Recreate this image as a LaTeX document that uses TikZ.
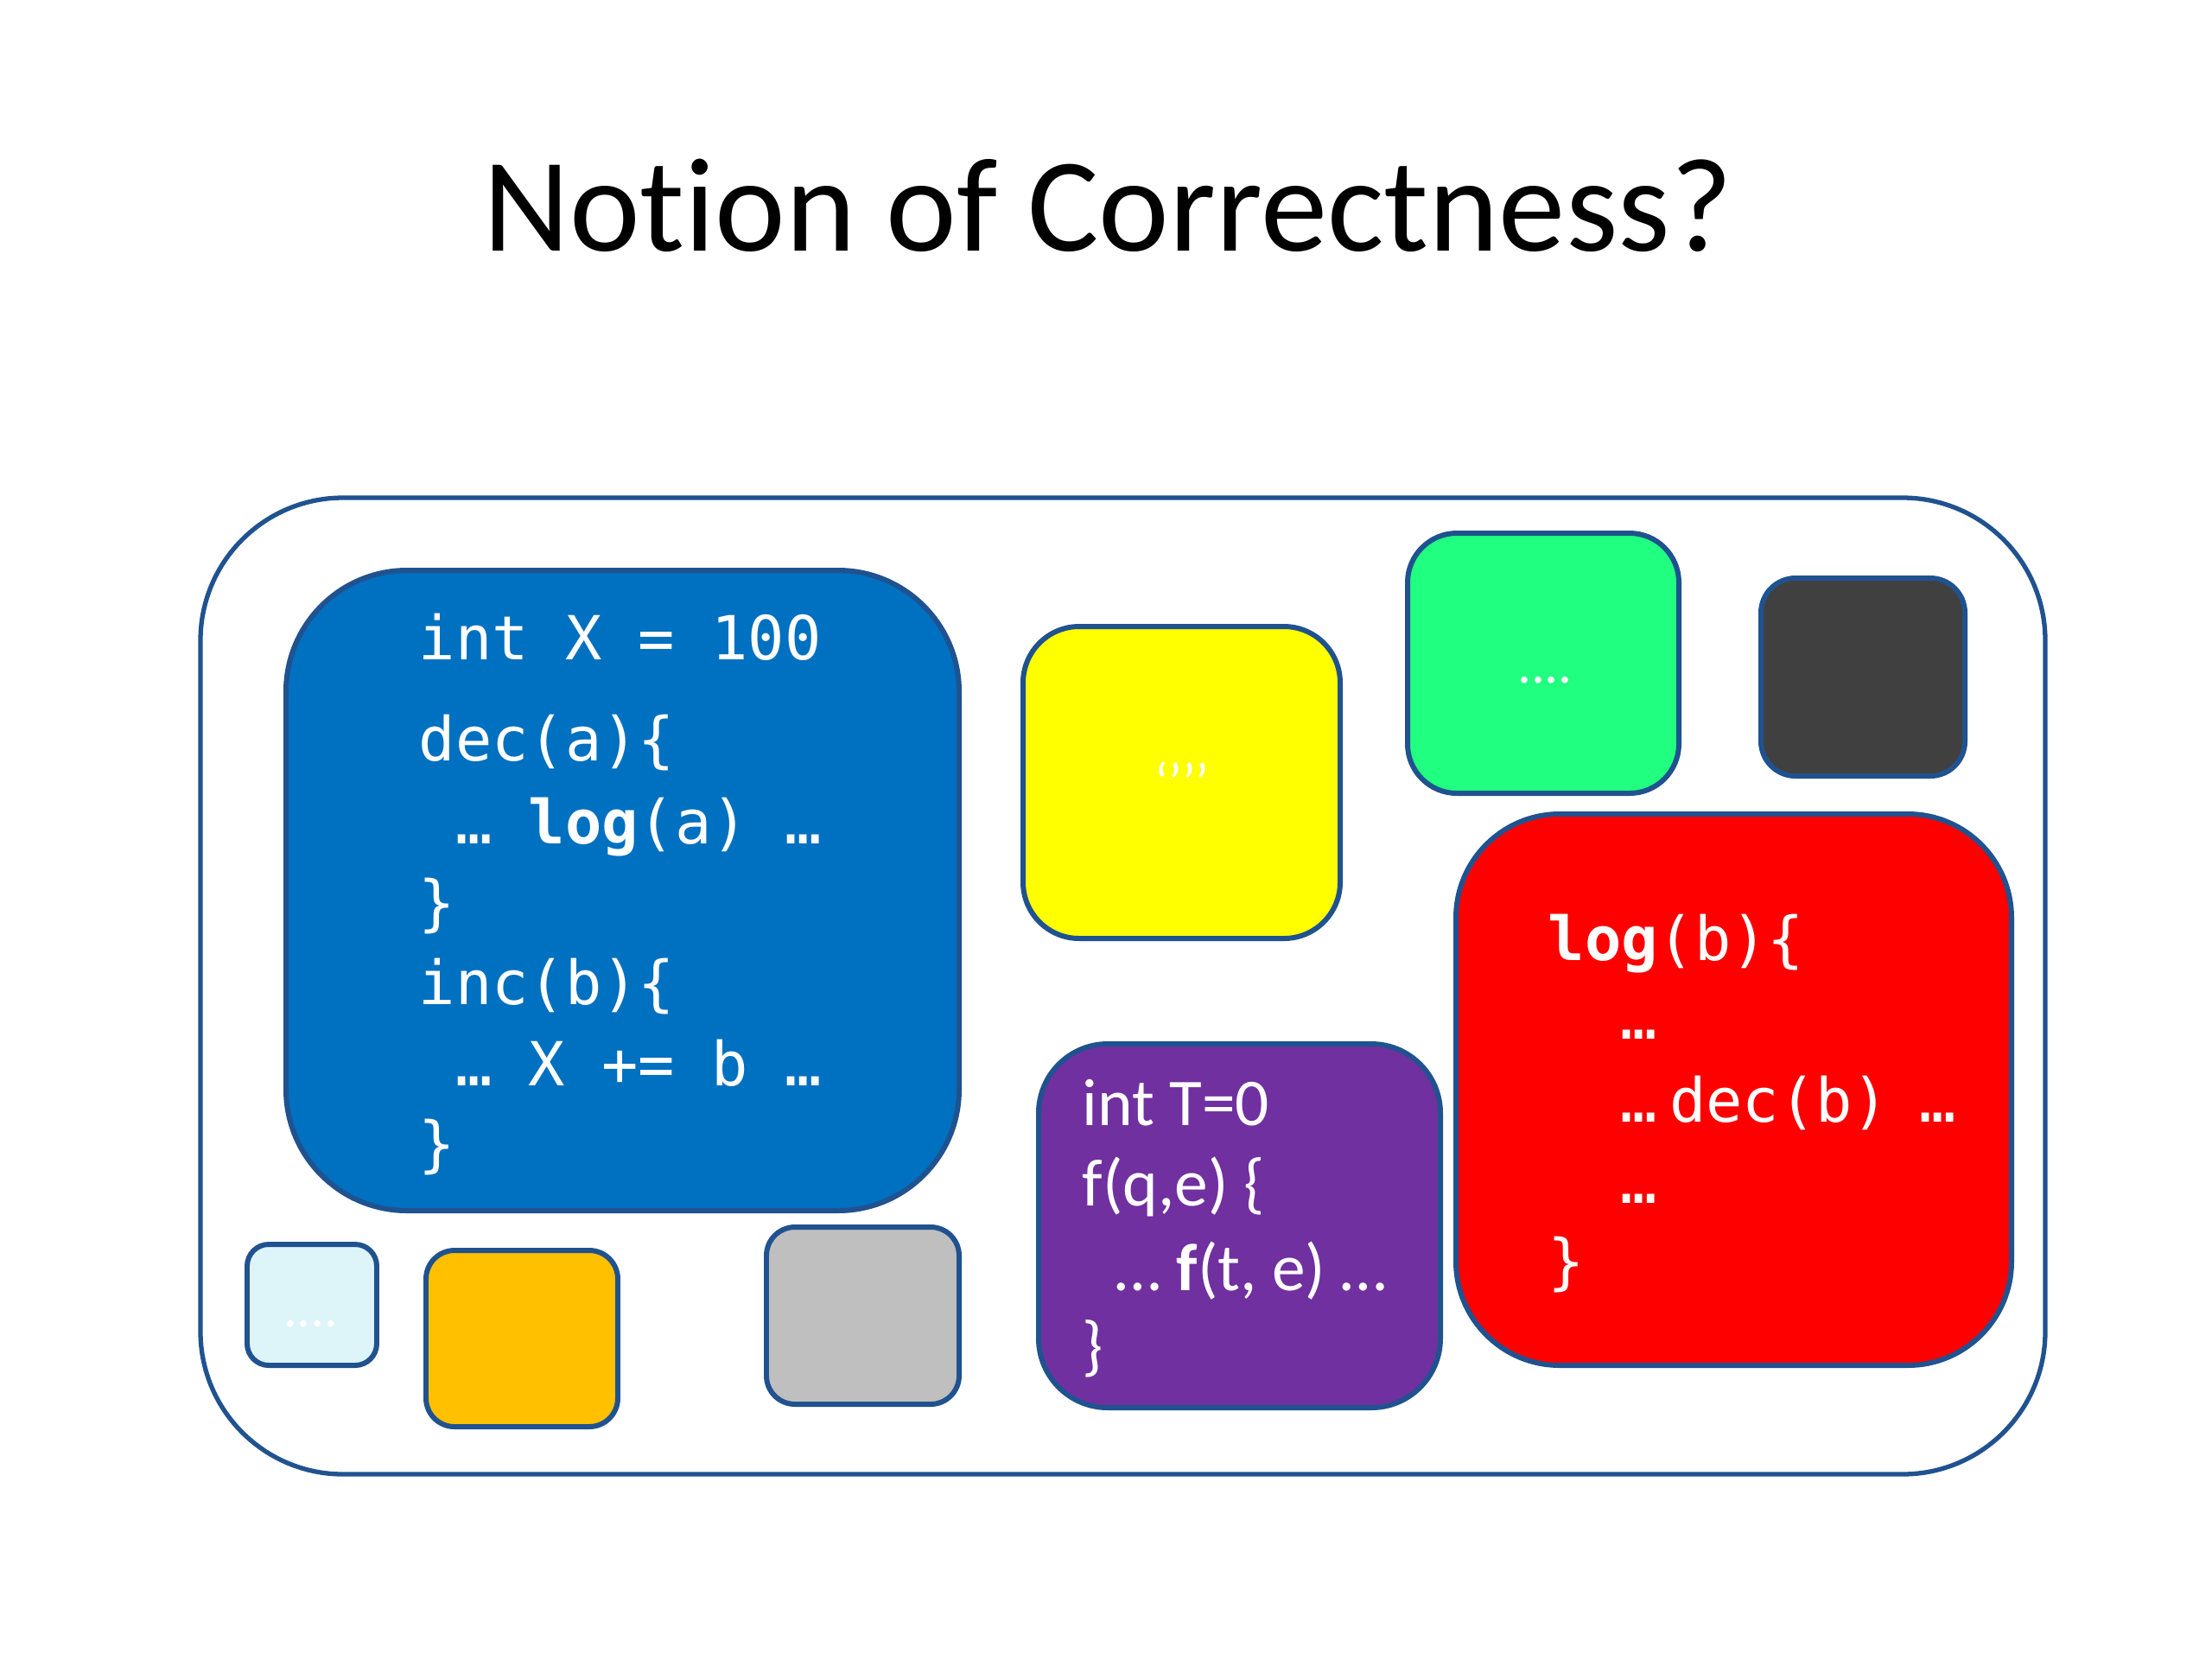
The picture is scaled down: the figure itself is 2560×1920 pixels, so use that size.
\documentclass[tikz,border=0pt]{standalone}
\usepackage{fontspec}
\setmainfont{Carlito}[Ligatures=NoCommon]
\setmonofont{DejaVu Sans Mono}
\definecolor{edgeblue}{HTML}{20528F}
\definecolor{codeblue}{HTML}{0070C0}
\definecolor{logred}{HTML}{FF0000}
\definecolor{funpurple}{HTML}{7030A0}
\definecolor{quoteyellow}{HTML}{FFFF00}
\definecolor{dotgreen}{HTML}{21FF80}
\definecolor{darkgray}{HTML}{404040}
\definecolor{palecyan}{HTML}{DDF4F8}
\definecolor{amber}{HTML}{FFC000}
\definecolor{midgray}{HTML}{BFBFBF}

\begin{document}
\begin{tikzpicture}[x=0.01cm, y=-0.01cm,
  box/.style={draw=edgeblue, line width=1.7pt},
  code/.style={anchor=base west, text=white, inner sep=0pt,
    font=\ttfamily\fontsize{20}{24}\selectfont},
  plain/.style={anchor=base west, text=white, inner sep=0pt,
    font=\fontsize{22}{26}\selectfont},
  filler/.style={anchor=base, text=white, inner sep=0pt,
    font=\fontsize{18}{20}\selectfont}]

  \useasboundingbox (0,0) rectangle (2560,1920);

  % Title
  \node[anchor=base, font=\fontsize{44}{50}\selectfont] (title) at (1282,290) {Notion of Correctness?};

  % Outer frame
  \draw[box, line width=1.5pt, rounded corners=1.65cm] (232,576) rectangle (2367,1706);

  %% Boxes
  \draw[box, fill=codeblue, rounded corners=1.4cm] (331,660) rectangle (1110,1401);
  \draw[box, fill=quoteyellow, rounded corners=0.65cm] (1184,725) rectangle (1551,1086);
  \draw[box, fill=dotgreen, rounded corners=0.57cm] (1629,617) rectangle (1943,918);
  \draw[box, fill=darkgray, rounded corners=0.4cm] (2038,669) rectangle (2274,898);
  \draw[box, fill=logred, rounded corners=1.2cm] (1685,942) rectangle (2328,1580);
  \draw[box, fill=funpurple, rounded corners=0.8cm] (1202,1208) rectangle (1667,1629);
  \draw[box, fill=palecyan, rounded corners=0.25cm] (286,1440) rectangle (436,1580);
  \draw[box, fill=amber, rounded corners=0.33cm] (493,1447) rectangle (715,1651);
  \draw[box, fill=midgray, rounded corners=0.33cm] (887,1420) rectangle (1110,1625);

  %% Blue box: globals and dec/inc
  \node[code] (intx) at (484,763) {int X = 100};
  \node[code] (deca) at (484,880) {dec(a)\{};
  \node[code] (loga) at (484,976) {\ … \textbf{log}(a) …};
  \node[code] (deccl) at (484,1069) {\}};
  \node[code] (incb) at (484,1162) {inc(b)\{};
  \node[code] (xplus) at (484,1256) {\ … X += b …};
  \node[code] (inccl) at (484,1348) {\}};

  %% Red box: log
  \node[code] (logb) at (1791,1111) {\textbf{log}(b)\{};
  \node[code] (dotsa) at (1875,1202) {…};
  \node[code] (decb) at (1875,1298) {…\hspace{0.2em}dec(b)\hspace{0.5em}…};
  \node[code] (dotsb) at (1875,1392) {…};
  \node[code] (logcl) at (1791,1484) {\}};

  %% Purple box: f
  \node[plain] (intt) at (1252,1302) {int T=0};
  \node[plain] (fqe) at (1252,1395) {f(q,e) \{};
  \node[plain] (fte) at (1290,1493) {… \textbf{f}(t, e) …};
  \node[plain] (fcl) at (1252,1583) {\}};

  %% Fillers
  \node[filler] (quotes) at (1368,927) {‘’’’};
  \node[filler] (greendots) at (1788,790) {....};
  \node[filler] (cyandots) at (360,1535) {....};
\end{tikzpicture}
\end{document}
